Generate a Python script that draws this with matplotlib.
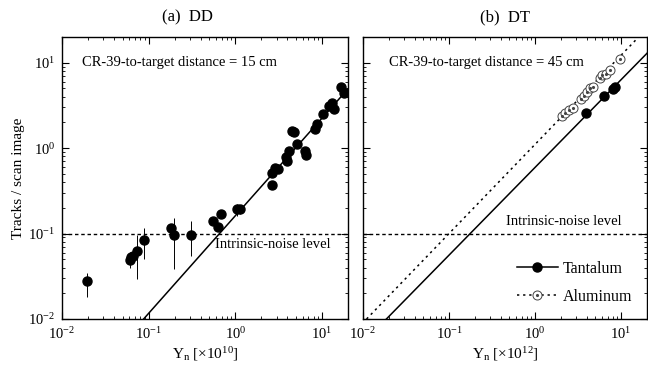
import numpy as np
import matplotlib
matplotlib.use("Agg")
import matplotlib.pyplot as plt
from matplotlib.lines import Line2D
from matplotlib.ticker import LogLocator

plt.rcParams['font.family'] = ['Liberation Serif', 'DejaVu Serif']
plt.rcParams['mathtext.fontset'] = 'custom'
plt.rcParams['mathtext.rm'] = 'Liberation Serif'
plt.rcParams['mathtext.it'] = 'Liberation Serif:italic'
plt.rcParams['mathtext.default'] = 'regular'

# (a) DD : yield [x1e10], tracks per scan image, error bar ends
dd_x = [0.0193, 0.0614, 0.063, 0.066, 0.074, 0.0885, 0.182, 0.195, 0.307,
        0.547, 0.625, 0.678, 1.057, 1.13, 2.62, 2.63, 2.86, 3.13, 3.84,
        3.94, 4.19, 4.47, 4.79, 5.15, 6.37, 6.49, 8.32, 8.77, 10.2, 11.97,
        12.97, 13.7, 16.6, 18.2]
dd_y = [0.0275, 0.0494, 0.0532, 0.0552, 0.062, 0.0834, 0.115, 0.097, 0.097,
        0.141, 0.118, 0.171, 0.195, 0.195, 0.367, 0.508, 0.593, 0.566, 0.798,
        0.71, 0.929, 1.6, 1.53, 1.11, 0.929, 0.827, 1.67, 1.91, 2.51, 3.15,
        3.36, 2.88, 5.17, 4.44]
dd_lo = [0.018, 0.0395, 0.045, 0.047, 0.029, 0.05, 0.10, 0.039, 0.055,
         0.141, 0.118, 0.171, 0.159, 0.170, 0.367, 0.508, 0.593, 0.566, 0.798,
         0.71, 0.929, 1.6, 1.53, 1.11, 0.929, 0.827, 1.67, 1.91, 2.51, 3.15,
         3.36, 2.88, 5.17, 4.44]
dd_hi = [0.0346, 0.0566, 0.058, 0.060, 0.097, 0.115, 0.13, 0.153, 0.14,
         0.141, 0.118, 0.171, 0.22, 0.215, 0.367, 0.508, 0.593, 0.566, 0.798,
         0.71, 0.929, 1.6, 1.53, 1.11, 0.929, 0.827, 1.67, 1.91, 2.51, 3.15,
         3.36, 2.88, 5.17, 4.44]
dd_fit_x = [0.0875, 20.0]
dd_fit_y = [0.01, 4.94]

# (b) DT : yield [x1e12]
ta_x = [3.91, 6.35, 8.05, 8.4]
ta_y = [2.56, 4.06, 4.94, 5.25]
al_x = [2.06, 2.25, 2.46, 2.75, 3.4, 3.71, 4.06, 4.35, 4.67, 5.66, 6.07,
        6.63, 7.36, 9.6]
al_y = [2.36, 2.57, 2.82, 2.93, 3.77, 4.06, 4.59, 5.04, 5.25, 6.6, 7.1,
        7.42, 8.11, 11.1]
ta_fit_x = [0.0187, 20.0]
ta_fit_y = [0.01, 12.9]
al_fit_x = [0.011, 16.0]
al_fit_y = [0.01, 20.0]

noise = 0.1
xlim = (0.01, 20)
ylim = (0.01, 20)

fig = plt.figure(figsize=(6.48, 3.68), dpi=100)
ax1 = fig.add_axes([62/648, 1-319/368, 286/648, 282/368])
ax2 = fig.add_axes([363/648, 1-319/368, 284/648, 282/368])

dots = (0, (1.5, 2.5))

for ax in (ax1, ax2):
    ax.set_xscale('log')
    ax.set_yscale('log')
    ax.set_xlim(*xlim)
    ax.set_ylim(*ylim)
    ax.set_xticks([0.01, 0.1, 1, 10])
    ax.set_yticks([0.01, 0.1, 1, 10])
    ax.xaxis.set_minor_locator(LogLocator(subs=np.arange(2, 10), numticks=20))
    ax.yaxis.set_minor_locator(LogLocator(subs=np.arange(2, 10), numticks=20))
    ax.tick_params(which='both', direction='in', top=True, right=True,
                   labelsize=10.5, pad=5)
    ax.tick_params(which='major', length=5, width=0.8)
    ax.tick_params(which='minor', length=2.5, width=0.6)
    ax.axhline(noise, color='black', lw=1, ls=(0, (2.5, 2)))
    for s in ax.spines.values():
        s.set_linewidth(1)

# panel (a)
y = np.array(dd_y)
ax1.errorbar(dd_x, dd_y, yerr=[y - np.array(dd_lo), np.array(dd_hi) - y],
             fmt='o', color='black', ms=6.5, elinewidth=0.7, capsize=0)
ax1.plot(dd_fit_x, dd_fit_y, color='black', lw=1.1)
ax1.text(0.437, 1.04, '(a)  DD', transform=ax1.transAxes, ha='center',
         va='bottom', fontsize=12)
ax1.text(0.07, 0.91, 'CR-39-to-target distance = 15 cm', transform=ax1.transAxes,
         ha='left', va='center', fontsize=10.5)
ax1.text(0.535, noise * 0.88, 'Intrinsic-noise level', fontsize=10.5,
         transform=ax1.get_yaxis_transform(), ha='left', va='top')
ax1.set_ylabel('Tracks / scan image', fontsize=11, labelpad=2)
ax1.set_xlabel(r'Y$_{\rm n}$ [×10$^{10}$]', fontsize=11, labelpad=2)

# panel (b)
ax2.plot(ta_fit_x, ta_fit_y, color='black', lw=1.1)
ax2.plot(al_fit_x, al_fit_y, color='black', lw=1.1, ls=dots)
ax2.plot(al_x, al_y, ls='none', marker='o', ms=6.5, mfc='white',
         mec='#444444', mew=0.7)
ax2.plot(al_x, al_y, ls='none', marker='.', ms=2.5, color='#444444')
ax2.plot(ta_x, ta_y, 'o', color='black', ms=6.5)
ax2.tick_params(axis='y', labelleft=False)
ax2.text(0.5, 1.04, '(b)  DT', transform=ax2.transAxes, ha='center',
         va='bottom', fontsize=12)
ax2.text(0.09, 0.91, 'CR-39-to-target distance = 45 cm', transform=ax2.transAxes,
         ha='left', va='center', fontsize=10.5)
ax2.text(0.505, noise * 1.15, 'Intrinsic-noise level', fontsize=10.5,
         transform=ax2.get_yaxis_transform(), ha='left', va='bottom')
ax2.set_xlabel(r'Y$_{\rm n}$ [×10$^{12}$]', fontsize=11, labelpad=2)

handles = [Line2D([], [], color='black', lw=1.1, marker='o', ms=6.5),
           (Line2D([], [], color='black', lw=1.1, ls=dots, marker='o', ms=6.5,
                   mfc='white', mec='#444444', mew=0.7),
            Line2D([], [], ls='none', marker='.', ms=2.5, color='#444444'))]
ax2.legend(handles, ['Tantalum', 'Aluminum'], loc='lower left',
           bbox_to_anchor=(0.49, 0.0), frameon=False, fontsize=11.5,
           handlelength=2.6, handletextpad=0.3, labelspacing=0.75)

fig.savefig('out.png', dpi=100)
